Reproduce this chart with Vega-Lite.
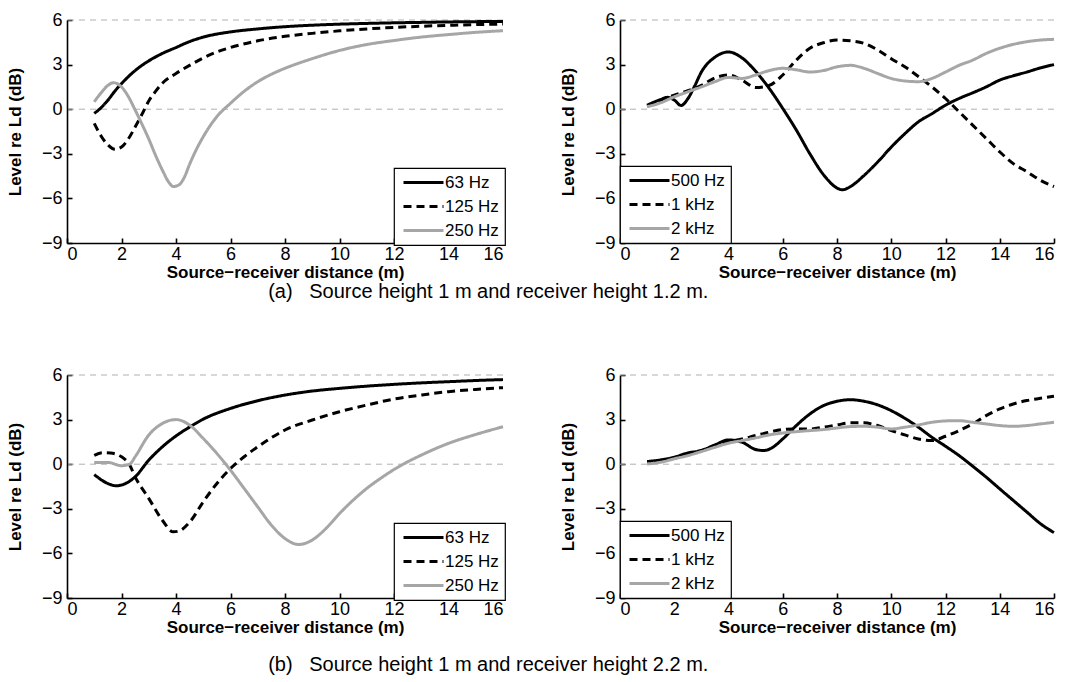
{
  "$schema": "https://vega.github.io/schema/vega-lite/v6.json",
  "background": "white",
  "padding": {"left": 6, "top": 11, "right": 5, "bottom": 5},
  "config": {
    "view": {"stroke": null},
    "font": "Liberation Sans",
    "axis": {"domainColor": "black", "domainWidth": 1.6, "tickColor": "black", "tickWidth": 1.6, "tickSize": -5, "grid": false, "labelFont": "Liberation Sans", "labelFontSize": 18, "labelColor": "black", "titleFont": "Liberation Sans", "titleFontSize": 17, "titleFontWeight": "bold", "titleColor": "black"},
    "axisX": {"labelPadding": 7, "titlePadding": 1},
    "axisY": {"labelPadding": 10, "titlePadding": 17},
    "legend": {"strokeColor": "black", "strokeWidth": 1.2, "fillColor": "white", "padding": 6, "labelFont": "Liberation Sans", "labelFontSize": 17, "labelColor": "black", "symbolType": "M-1,0H7", "symbolStrokeWidth": 3.2, "symbolSize": 100, "rowPadding": 6, "labelOffset": 28, "offset": 0, "cornerRadius": 0},
    "title": {"font": "Liberation Sans", "fontSize": 20, "fontWeight": "normal", "color": "black"}
  },
  "datasets": {
    "a1": [
      {"d": 1, "L": -0.28, "f": "63 Hz"}, {"d": 1.25, "L": 0.1, "f": "63 Hz"}, {"d": 1.5, "L": 0.6, "f": "63 Hz"}, {"d": 1.75, "L": 1.2, "f": "63 Hz"}, {"d": 2, "L": 1.72, "f": "63 Hz"}, {"d": 2.5, "L": 2.6, "f": "63 Hz"}, {"d": 3, "L": 3.25, "f": "63 Hz"}, {"d": 3.5, "L": 3.75, "f": "63 Hz"}, {"d": 4, "L": 4.15, "f": "63 Hz"}, {"d": 4.5, "L": 4.55, "f": "63 Hz"}, {"d": 5, "L": 4.85, "f": "63 Hz"}, {"d": 6, "L": 5.2, "f": "63 Hz"}, {"d": 7, "L": 5.4, "f": "63 Hz"}, {"d": 8, "L": 5.55, "f": "63 Hz"}, {"d": 9, "L": 5.65, "f": "63 Hz"}, {"d": 10, "L": 5.72, "f": "63 Hz"}, {"d": 11, "L": 5.77, "f": "63 Hz"}, {"d": 12, "L": 5.81, "f": "63 Hz"}, {"d": 13, "L": 5.84, "f": "63 Hz"}, {"d": 14, "L": 5.87, "f": "63 Hz"}, {"d": 15, "L": 5.89, "f": "63 Hz"}, {"d": 16, "L": 5.9, "f": "63 Hz"},
      {"d": 1, "L": -0.95, "f": "125 Hz"}, {"d": 1.25, "L": -1.8, "f": "125 Hz"}, {"d": 1.5, "L": -2.4, "f": "125 Hz"}, {"d": 1.76, "L": -2.7, "f": "125 Hz"}, {"d": 2, "L": -2.55, "f": "125 Hz"}, {"d": 2.25, "L": -2.0, "f": "125 Hz"}, {"d": 2.5, "L": -1.2, "f": "125 Hz"}, {"d": 2.75, "L": -0.35, "f": "125 Hz"}, {"d": 3, "L": 0.55, "f": "125 Hz"}, {"d": 3.25, "L": 1.2, "f": "125 Hz"}, {"d": 3.5, "L": 1.75, "f": "125 Hz"}, {"d": 4, "L": 2.4, "f": "125 Hz"}, {"d": 4.5, "L": 2.95, "f": "125 Hz"}, {"d": 5, "L": 3.45, "f": "125 Hz"}, {"d": 5.5, "L": 3.85, "f": "125 Hz"}, {"d": 6, "L": 4.15, "f": "125 Hz"}, {"d": 7, "L": 4.6, "f": "125 Hz"}, {"d": 8, "L": 4.9, "f": "125 Hz"}, {"d": 9, "L": 5.1, "f": "125 Hz"}, {"d": 10, "L": 5.27, "f": "125 Hz"}, {"d": 11, "L": 5.4, "f": "125 Hz"}, {"d": 12, "L": 5.5, "f": "125 Hz"}, {"d": 13, "L": 5.58, "f": "125 Hz"}, {"d": 14, "L": 5.64, "f": "125 Hz"}, {"d": 15, "L": 5.69, "f": "125 Hz"}, {"d": 16, "L": 5.73, "f": "125 Hz"},
      {"d": 1, "L": 0.5, "f": "250 Hz"}, {"d": 1.25, "L": 1.1, "f": "250 Hz"}, {"d": 1.5, "L": 1.6, "f": "250 Hz"}, {"d": 1.7, "L": 1.78, "f": "250 Hz"}, {"d": 2, "L": 1.5, "f": "250 Hz"}, {"d": 2.25, "L": 0.85, "f": "250 Hz"}, {"d": 2.5, "L": -0.05, "f": "250 Hz"}, {"d": 2.75, "L": -1.0, "f": "250 Hz"}, {"d": 3, "L": -2.0, "f": "250 Hz"}, {"d": 3.25, "L": -3.1, "f": "250 Hz"}, {"d": 3.5, "L": -4.1, "f": "250 Hz"}, {"d": 3.75, "L": -4.95, "f": "250 Hz"}, {"d": 3.9, "L": -5.2, "f": "250 Hz"}, {"d": 4.1, "L": -5.1, "f": "250 Hz"}, {"d": 4.3, "L": -4.6, "f": "250 Hz"}, {"d": 4.5, "L": -3.7, "f": "250 Hz"}, {"d": 4.75, "L": -2.7, "f": "250 Hz"}, {"d": 5, "L": -1.85, "f": "250 Hz"}, {"d": 5.5, "L": -0.5, "f": "250 Hz"}, {"d": 6, "L": 0.4, "f": "250 Hz"}, {"d": 6.5, "L": 1.2, "f": "250 Hz"}, {"d": 7, "L": 1.85, "f": "250 Hz"}, {"d": 7.5, "L": 2.35, "f": "250 Hz"}, {"d": 8, "L": 2.75, "f": "250 Hz"}, {"d": 9, "L": 3.4, "f": "250 Hz"}, {"d": 10, "L": 3.95, "f": "250 Hz"}, {"d": 11, "L": 4.35, "f": "250 Hz"}, {"d": 12, "L": 4.62, "f": "250 Hz"}, {"d": 13, "L": 4.85, "f": "250 Hz"}, {"d": 14, "L": 5.02, "f": "250 Hz"}, {"d": 15, "L": 5.17, "f": "250 Hz"}, {"d": 16, "L": 5.28, "f": "250 Hz"}
    ],
    "a2": [
      {"d": 1, "L": 0.27, "f": "500 Hz"}, {"d": 1.5, "L": 0.65, "f": "500 Hz"}, {"d": 1.75, "L": 0.8, "f": "500 Hz"}, {"d": 2, "L": 0.62, "f": "500 Hz"}, {"d": 2.25, "L": 0.25, "f": "500 Hz"}, {"d": 2.5, "L": 0.7, "f": "500 Hz"}, {"d": 2.75, "L": 1.55, "f": "500 Hz"}, {"d": 3, "L": 2.5, "f": "500 Hz"}, {"d": 3.5, "L": 3.5, "f": "500 Hz"}, {"d": 4, "L": 3.85, "f": "500 Hz"}, {"d": 4.5, "L": 3.45, "f": "500 Hz"}, {"d": 5, "L": 2.55, "f": "500 Hz"}, {"d": 5.5, "L": 1.4, "f": "500 Hz"}, {"d": 6, "L": 0.05, "f": "500 Hz"}, {"d": 6.5, "L": -1.4, "f": "500 Hz"}, {"d": 7, "L": -3.0, "f": "500 Hz"}, {"d": 7.5, "L": -4.4, "f": "500 Hz"}, {"d": 8, "L": -5.3, "f": "500 Hz"}, {"d": 8.2, "L": -5.42, "f": "500 Hz"}, {"d": 8.5, "L": -5.2, "f": "500 Hz"}, {"d": 9, "L": -4.45, "f": "500 Hz"}, {"d": 9.5, "L": -3.55, "f": "500 Hz"}, {"d": 10, "L": -2.55, "f": "500 Hz"}, {"d": 10.5, "L": -1.65, "f": "500 Hz"}, {"d": 11, "L": -0.85, "f": "500 Hz"}, {"d": 11.5, "L": -0.3, "f": "500 Hz"}, {"d": 12, "L": 0.27, "f": "500 Hz"}, {"d": 12.5, "L": 0.72, "f": "500 Hz"}, {"d": 13, "L": 1.1, "f": "500 Hz"}, {"d": 13.5, "L": 1.5, "f": "500 Hz"}, {"d": 14, "L": 1.96, "f": "500 Hz"}, {"d": 14.5, "L": 2.25, "f": "500 Hz"}, {"d": 15, "L": 2.5, "f": "500 Hz"}, {"d": 15.5, "L": 2.78, "f": "500 Hz"}, {"d": 16, "L": 3.0, "f": "500 Hz"},
      {"d": 1, "L": 0.2, "f": "1 kHz"}, {"d": 1.5, "L": 0.6, "f": "1 kHz"}, {"d": 2, "L": 0.95, "f": "1 kHz"}, {"d": 2.5, "L": 1.24, "f": "1 kHz"}, {"d": 3, "L": 1.6, "f": "1 kHz"}, {"d": 3.5, "L": 2.1, "f": "1 kHz"}, {"d": 4, "L": 2.3, "f": "1 kHz"}, {"d": 4.5, "L": 1.95, "f": "1 kHz"}, {"d": 5, "L": 1.46, "f": "1 kHz"}, {"d": 5.5, "L": 1.6, "f": "1 kHz"}, {"d": 6, "L": 2.3, "f": "1 kHz"}, {"d": 6.5, "L": 3.3, "f": "1 kHz"}, {"d": 7, "L": 4.1, "f": "1 kHz"}, {"d": 7.5, "L": 4.47, "f": "1 kHz"}, {"d": 8, "L": 4.65, "f": "1 kHz"}, {"d": 8.5, "L": 4.6, "f": "1 kHz"}, {"d": 9, "L": 4.43, "f": "1 kHz"}, {"d": 9.5, "L": 3.98, "f": "1 kHz"}, {"d": 10, "L": 3.4, "f": "1 kHz"}, {"d": 10.5, "L": 2.85, "f": "1 kHz"}, {"d": 11, "L": 2.2, "f": "1 kHz"}, {"d": 11.5, "L": 1.5, "f": "1 kHz"}, {"d": 12, "L": 0.72, "f": "1 kHz"}, {"d": 12.5, "L": -0.17, "f": "1 kHz"}, {"d": 13, "L": -1.07, "f": "1 kHz"}, {"d": 13.5, "L": -1.97, "f": "1 kHz"}, {"d": 14, "L": -2.87, "f": "1 kHz"}, {"d": 14.5, "L": -3.66, "f": "1 kHz"}, {"d": 15, "L": -4.2, "f": "1 kHz"}, {"d": 15.5, "L": -4.78, "f": "1 kHz"}, {"d": 16, "L": -5.2, "f": "1 kHz"},
      {"d": 1, "L": 0.16, "f": "2 kHz"}, {"d": 1.5, "L": 0.43, "f": "2 kHz"}, {"d": 2, "L": 0.83, "f": "2 kHz"}, {"d": 2.5, "L": 1.17, "f": "2 kHz"}, {"d": 3, "L": 1.5, "f": "2 kHz"}, {"d": 3.5, "L": 1.85, "f": "2 kHz"}, {"d": 4, "L": 2.14, "f": "2 kHz"}, {"d": 4.5, "L": 2.07, "f": "2 kHz"}, {"d": 5, "L": 2.3, "f": "2 kHz"}, {"d": 5.5, "L": 2.6, "f": "2 kHz"}, {"d": 6, "L": 2.75, "f": "2 kHz"}, {"d": 6.5, "L": 2.65, "f": "2 kHz"}, {"d": 7, "L": 2.5, "f": "2 kHz"}, {"d": 7.5, "L": 2.6, "f": "2 kHz"}, {"d": 8, "L": 2.85, "f": "2 kHz"}, {"d": 8.5, "L": 2.95, "f": "2 kHz"}, {"d": 9, "L": 2.75, "f": "2 kHz"}, {"d": 9.5, "L": 2.4, "f": "2 kHz"}, {"d": 10, "L": 2.07, "f": "2 kHz"}, {"d": 10.5, "L": 1.9, "f": "2 kHz"}, {"d": 11, "L": 1.85, "f": "2 kHz"}, {"d": 11.5, "L": 2.07, "f": "2 kHz"}, {"d": 12, "L": 2.5, "f": "2 kHz"}, {"d": 12.5, "L": 2.95, "f": "2 kHz"}, {"d": 13, "L": 3.3, "f": "2 kHz"}, {"d": 13.5, "L": 3.75, "f": "2 kHz"}, {"d": 14, "L": 4.1, "f": "2 kHz"}, {"d": 14.5, "L": 4.36, "f": "2 kHz"}, {"d": 15, "L": 4.54, "f": "2 kHz"}, {"d": 15.5, "L": 4.65, "f": "2 kHz"}, {"d": 16, "L": 4.7, "f": "2 kHz"}
    ],
    "b1": [
      {"d": 1, "L": -0.7, "f": "63 Hz"}, {"d": 1.5, "L": -1.3, "f": "63 Hz"}, {"d": 1.8, "L": -1.45, "f": "63 Hz"}, {"d": 2, "L": -1.4, "f": "63 Hz"}, {"d": 2.5, "L": -0.85, "f": "63 Hz"}, {"d": 3, "L": 0.27, "f": "63 Hz"}, {"d": 3.5, "L": 1.17, "f": "63 Hz"}, {"d": 4, "L": 1.9, "f": "63 Hz"}, {"d": 4.5, "L": 2.5, "f": "63 Hz"}, {"d": 5, "L": 3.03, "f": "63 Hz"}, {"d": 6, "L": 3.75, "f": "63 Hz"}, {"d": 7, "L": 4.27, "f": "63 Hz"}, {"d": 8, "L": 4.65, "f": "63 Hz"}, {"d": 9, "L": 4.92, "f": "63 Hz"}, {"d": 10, "L": 5.1, "f": "63 Hz"}, {"d": 11, "L": 5.25, "f": "63 Hz"}, {"d": 12, "L": 5.37, "f": "63 Hz"}, {"d": 13, "L": 5.47, "f": "63 Hz"}, {"d": 14, "L": 5.55, "f": "63 Hz"}, {"d": 15, "L": 5.63, "f": "63 Hz"}, {"d": 16, "L": 5.69, "f": "63 Hz"},
      {"d": 1, "L": 0.6, "f": "125 Hz"}, {"d": 1.3, "L": 0.77, "f": "125 Hz"}, {"d": 1.6, "L": 0.75, "f": "125 Hz"}, {"d": 2, "L": 0.5, "f": "125 Hz"}, {"d": 2.3, "L": -0.06, "f": "125 Hz"}, {"d": 2.5, "L": -0.85, "f": "125 Hz"}, {"d": 3, "L": -2.3, "f": "125 Hz"}, {"d": 3.5, "L": -3.77, "f": "125 Hz"}, {"d": 3.9, "L": -4.55, "f": "125 Hz"}, {"d": 4.1, "L": -4.5, "f": "125 Hz"}, {"d": 4.5, "L": -3.9, "f": "125 Hz"}, {"d": 5, "L": -2.53, "f": "125 Hz"}, {"d": 5.5, "L": -1.3, "f": "125 Hz"}, {"d": 6, "L": -0.29, "f": "125 Hz"}, {"d": 6.5, "L": 0.5, "f": "125 Hz"}, {"d": 7, "L": 1.17, "f": "125 Hz"}, {"d": 7.5, "L": 1.78, "f": "125 Hz"}, {"d": 8, "L": 2.3, "f": "125 Hz"}, {"d": 9, "L": 2.97, "f": "125 Hz"}, {"d": 10, "L": 3.53, "f": "125 Hz"}, {"d": 11, "L": 3.98, "f": "125 Hz"}, {"d": 12, "L": 4.38, "f": "125 Hz"}, {"d": 13, "L": 4.65, "f": "125 Hz"}, {"d": 14, "L": 4.88, "f": "125 Hz"}, {"d": 15, "L": 5.03, "f": "125 Hz"}, {"d": 16, "L": 5.15, "f": "125 Hz"},
      {"d": 1, "L": 0.12, "f": "250 Hz"}, {"d": 1.5, "L": 0.12, "f": "250 Hz"}, {"d": 2, "L": -0.1, "f": "250 Hz"}, {"d": 2.3, "L": 0.0, "f": "250 Hz"}, {"d": 2.5, "L": 0.5, "f": "250 Hz"}, {"d": 3, "L": 1.96, "f": "250 Hz"}, {"d": 3.5, "L": 2.74, "f": "250 Hz"}, {"d": 4, "L": 3.0, "f": "250 Hz"}, {"d": 4.5, "L": 2.63, "f": "250 Hz"}, {"d": 5, "L": 1.73, "f": "250 Hz"}, {"d": 5.5, "L": 0.72, "f": "250 Hz"}, {"d": 6, "L": -0.4, "f": "250 Hz"}, {"d": 6.5, "L": -1.63, "f": "250 Hz"}, {"d": 7, "L": -2.87, "f": "250 Hz"}, {"d": 7.5, "L": -4.1, "f": "250 Hz"}, {"d": 8, "L": -5.0, "f": "250 Hz"}, {"d": 8.5, "L": -5.4, "f": "250 Hz"}, {"d": 9, "L": -5.1, "f": "250 Hz"}, {"d": 9.5, "L": -4.33, "f": "250 Hz"}, {"d": 10, "L": -3.32, "f": "250 Hz"}, {"d": 10.5, "L": -2.42, "f": "250 Hz"}, {"d": 11, "L": -1.63, "f": "250 Hz"}, {"d": 11.5, "L": -0.96, "f": "250 Hz"}, {"d": 12, "L": -0.36, "f": "250 Hz"}, {"d": 12.5, "L": 0.16, "f": "250 Hz"}, {"d": 13, "L": 0.61, "f": "250 Hz"}, {"d": 14, "L": 1.4, "f": "250 Hz"}, {"d": 15, "L": 2.0, "f": "250 Hz"}, {"d": 16, "L": 2.52, "f": "250 Hz"}
    ],
    "b2": [
      {"d": 1, "L": 0.18, "f": "500 Hz"}, {"d": 1.5, "L": 0.29, "f": "500 Hz"}, {"d": 2, "L": 0.47, "f": "500 Hz"}, {"d": 2.5, "L": 0.76, "f": "500 Hz"}, {"d": 3, "L": 0.92, "f": "500 Hz"}, {"d": 3.5, "L": 1.3, "f": "500 Hz"}, {"d": 4, "L": 1.63, "f": "500 Hz"}, {"d": 4.5, "L": 1.48, "f": "500 Hz"}, {"d": 5, "L": 0.99, "f": "500 Hz"}, {"d": 5.3, "L": 0.92, "f": "500 Hz"}, {"d": 5.6, "L": 1.1, "f": "500 Hz"}, {"d": 6, "L": 1.7, "f": "500 Hz"}, {"d": 6.5, "L": 2.6, "f": "500 Hz"}, {"d": 7, "L": 3.38, "f": "500 Hz"}, {"d": 7.5, "L": 3.94, "f": "500 Hz"}, {"d": 8, "L": 4.23, "f": "500 Hz"}, {"d": 8.5, "L": 4.34, "f": "500 Hz"}, {"d": 9, "L": 4.23, "f": "500 Hz"}, {"d": 9.5, "L": 3.99, "f": "500 Hz"}, {"d": 10, "L": 3.6, "f": "500 Hz"}, {"d": 10.5, "L": 3.09, "f": "500 Hz"}, {"d": 11, "L": 2.49, "f": "500 Hz"}, {"d": 11.5, "L": 1.81, "f": "500 Hz"}, {"d": 12, "L": 1.21, "f": "500 Hz"}, {"d": 12.5, "L": 0.58, "f": "500 Hz"}, {"d": 13, "L": -0.13, "f": "500 Hz"}, {"d": 13.5, "L": -0.87, "f": "500 Hz"}, {"d": 14, "L": -1.66, "f": "500 Hz"}, {"d": 14.5, "L": -2.44, "f": "500 Hz"}, {"d": 15, "L": -3.22, "f": "500 Hz"}, {"d": 15.5, "L": -4.0, "f": "500 Hz"}, {"d": 16, "L": -4.6, "f": "500 Hz"},
      {"d": 1, "L": 0.13, "f": "1 kHz"}, {"d": 1.5, "L": 0.25, "f": "1 kHz"}, {"d": 2, "L": 0.4, "f": "1 kHz"}, {"d": 2.5, "L": 0.69, "f": "1 kHz"}, {"d": 3, "L": 0.92, "f": "1 kHz"}, {"d": 3.5, "L": 1.25, "f": "1 kHz"}, {"d": 4, "L": 1.52, "f": "1 kHz"}, {"d": 4.5, "L": 1.7, "f": "1 kHz"}, {"d": 5, "L": 1.93, "f": "1 kHz"}, {"d": 5.5, "L": 2.15, "f": "1 kHz"}, {"d": 6, "L": 2.33, "f": "1 kHz"}, {"d": 6.5, "L": 2.37, "f": "1 kHz"}, {"d": 7, "L": 2.37, "f": "1 kHz"}, {"d": 7.5, "L": 2.49, "f": "1 kHz"}, {"d": 8, "L": 2.64, "f": "1 kHz"}, {"d": 8.5, "L": 2.78, "f": "1 kHz"}, {"d": 9, "L": 2.78, "f": "1 kHz"}, {"d": 9.5, "L": 2.6, "f": "1 kHz"}, {"d": 10, "L": 2.26, "f": "1 kHz"}, {"d": 10.5, "L": 1.97, "f": "1 kHz"}, {"d": 11, "L": 1.7, "f": "1 kHz"}, {"d": 11.5, "L": 1.59, "f": "1 kHz"}, {"d": 12, "L": 1.88, "f": "1 kHz"}, {"d": 12.5, "L": 2.26, "f": "1 kHz"}, {"d": 13, "L": 2.71, "f": "1 kHz"}, {"d": 13.5, "L": 3.27, "f": "1 kHz"}, {"d": 14, "L": 3.72, "f": "1 kHz"}, {"d": 14.5, "L": 4.05, "f": "1 kHz"}, {"d": 15, "L": 4.28, "f": "1 kHz"}, {"d": 15.5, "L": 4.43, "f": "1 kHz"}, {"d": 16, "L": 4.57, "f": "1 kHz"},
      {"d": 1, "L": 0.02, "f": "2 kHz"}, {"d": 1.5, "L": 0.13, "f": "2 kHz"}, {"d": 2, "L": 0.36, "f": "2 kHz"}, {"d": 2.5, "L": 0.58, "f": "2 kHz"}, {"d": 3, "L": 0.85, "f": "2 kHz"}, {"d": 3.5, "L": 1.14, "f": "2 kHz"}, {"d": 4, "L": 1.41, "f": "2 kHz"}, {"d": 4.5, "L": 1.59, "f": "2 kHz"}, {"d": 5, "L": 1.77, "f": "2 kHz"}, {"d": 5.5, "L": 1.97, "f": "2 kHz"}, {"d": 6, "L": 2.1, "f": "2 kHz"}, {"d": 6.5, "L": 2.19, "f": "2 kHz"}, {"d": 7, "L": 2.26, "f": "2 kHz"}, {"d": 7.5, "L": 2.33, "f": "2 kHz"}, {"d": 8, "L": 2.44, "f": "2 kHz"}, {"d": 8.5, "L": 2.53, "f": "2 kHz"}, {"d": 9, "L": 2.55, "f": "2 kHz"}, {"d": 9.5, "L": 2.49, "f": "2 kHz"}, {"d": 10, "L": 2.37, "f": "2 kHz"}, {"d": 10.5, "L": 2.49, "f": "2 kHz"}, {"d": 11, "L": 2.64, "f": "2 kHz"}, {"d": 11.5, "L": 2.82, "f": "2 kHz"}, {"d": 12, "L": 2.91, "f": "2 kHz"}, {"d": 12.5, "L": 2.93, "f": "2 kHz"}, {"d": 13, "L": 2.82, "f": "2 kHz"}, {"d": 13.5, "L": 2.71, "f": "2 kHz"}, {"d": 14, "L": 2.6, "f": "2 kHz"}, {"d": 14.5, "L": 2.55, "f": "2 kHz"}, {"d": 15, "L": 2.6, "f": "2 kHz"}, {"d": 15.5, "L": 2.71, "f": "2 kHz"}, {"d": 16, "L": 2.82, "f": "2 kHz"}
    ],
    "guides": [{"g": 0}, {"g": 6}]
  },
  "vconcat": [
    {
      "title": {"text": "(a)\u00a0\u00a0 Source height 1 m and receiver height 1.2 m.", "orient": "bottom", "anchor": "middle", "offset": 2, "dx": -45},
      "spacing": 50,
      "resolve": {"scale": {"color": "independent", "strokeDash": "independent"}},
      "hconcat": [
        {
          "width": 436, "height": 223,
          "layer": [
            {"data": {"name": "guides"}, "mark": {"type": "rule", "stroke": "#b0b0b0", "strokeDash": [6, 5], "strokeWidth": 1}, "encoding": {"y": {"field": "g", "type": "quantitative", "scale": {"domain": [-9, 6]}, "title": "Level re Ld (dB)"}}},
            {"data": {"name": "a1"}, "mark": {"type": "line", "strokeWidth": 3, "interpolate": "monotone"},
             "encoding": {
               "x": {"field": "d", "type": "quantitative", "scale": {"domain": [0, 16], "nice": false}, "axis": {"values": [0, 2, 4, 6, 8, 10, 12, 14, 16]}, "title": "Source−receiver distance (m)"},
               "y": {"field": "L", "type": "quantitative", "scale": {"domain": [-9, 6]}, "axis": {"values": [-9, -6, -3, 0, 3, 6]}, "title": "Level re Ld (dB)"},
               "color": {"field": "f", "type": "nominal", "sort": null, "scale": {"domain": ["63 Hz", "125 Hz", "250 Hz"], "range": ["black", "black", "#a6a6a6"]}, "legend": {"title": null, "orient": "bottom-right", "offset": -2}},
               "strokeDash": {"field": "f", "type": "nominal", "sort": null, "scale": {"domain": ["63 Hz", "125 Hz", "250 Hz"], "range": [[1, 0], [8, 5], [1, 0]]}, "legend": {"title": null, "orient": "bottom-right", "offset": -2}}
             }}
          ]
        },
        {
          "width": 434, "height": 223,
          "layer": [
            {"data": {"name": "guides"}, "mark": {"type": "rule", "stroke": "#b0b0b0", "strokeDash": [6, 5], "strokeWidth": 1}, "encoding": {"y": {"field": "g", "type": "quantitative", "scale": {"domain": [-9, 6]}, "title": "Level re Ld (dB)"}}},
            {"data": {"name": "a2"}, "mark": {"type": "line", "strokeWidth": 3, "interpolate": "monotone"},
             "encoding": {
               "x": {"field": "d", "type": "quantitative", "scale": {"domain": [0, 16], "nice": false}, "axis": {"values": [0, 2, 4, 6, 8, 10, 12, 14, 16]}, "title": "Source−receiver distance (m)"},
               "y": {"field": "L", "type": "quantitative", "scale": {"domain": [-9, 6]}, "axis": {"values": [-9, -6, -3, 0, 3, 6]}, "title": "Level re Ld (dB)"},
               "color": {"field": "f", "type": "nominal", "sort": null, "scale": {"domain": ["500 Hz", "1 kHz", "2 kHz"], "range": ["black", "black", "#a6a6a6"]}, "legend": {"title": null, "orient": "bottom-left", "offset": 0}},
               "strokeDash": {"field": "f", "type": "nominal", "sort": null, "scale": {"domain": ["500 Hz", "1 kHz", "2 kHz"], "range": [[1, 0], [8, 5], [1, 0]]}, "legend": {"title": null, "orient": "bottom-left", "offset": 0}}
             }}
          ]
        }
      ]
    },
    {
      "title": {"text": "(b)\u00a0\u00a0 Source height 1 m and receiver height 2.2 m.", "orient": "bottom", "anchor": "middle", "offset": 20, "dx": -45},
      "spacing": 50,
      "resolve": {"scale": {"color": "independent", "strokeDash": "independent"}},
      "hconcat": [
        {
          "width": 436, "height": 223,
          "layer": [
            {"data": {"name": "guides"}, "mark": {"type": "rule", "stroke": "#b0b0b0", "strokeDash": [6, 5], "strokeWidth": 1}, "encoding": {"y": {"field": "g", "type": "quantitative", "scale": {"domain": [-9, 6]}, "title": "Level re Ld (dB)"}}},
            {"data": {"name": "b1"}, "mark": {"type": "line", "strokeWidth": 3, "interpolate": "monotone"},
             "encoding": {
               "x": {"field": "d", "type": "quantitative", "scale": {"domain": [0, 16], "nice": false}, "axis": {"values": [0, 2, 4, 6, 8, 10, 12, 14, 16]}, "title": "Source−receiver distance (m)"},
               "y": {"field": "L", "type": "quantitative", "scale": {"domain": [-9, 6]}, "axis": {"values": [-9, -6, -3, 0, 3, 6]}, "title": "Level re Ld (dB)"},
               "color": {"field": "f", "type": "nominal", "sort": null, "scale": {"domain": ["63 Hz", "125 Hz", "250 Hz"], "range": ["black", "black", "#a6a6a6"]}, "legend": {"title": null, "orient": "bottom-right", "offset": -2}},
               "strokeDash": {"field": "f", "type": "nominal", "sort": null, "scale": {"domain": ["63 Hz", "125 Hz", "250 Hz"], "range": [[1, 0], [8, 5], [1, 0]]}, "legend": {"title": null, "orient": "bottom-right", "offset": -2}}
             }}
          ]
        },
        {
          "width": 434, "height": 223,
          "layer": [
            {"data": {"name": "guides"}, "mark": {"type": "rule", "stroke": "#b0b0b0", "strokeDash": [6, 5], "strokeWidth": 1}, "encoding": {"y": {"field": "g", "type": "quantitative", "scale": {"domain": [-9, 6]}, "title": "Level re Ld (dB)"}}},
            {"data": {"name": "b2"}, "mark": {"type": "line", "strokeWidth": 3, "interpolate": "monotone"},
             "encoding": {
               "x": {"field": "d", "type": "quantitative", "scale": {"domain": [0, 16], "nice": false}, "axis": {"values": [0, 2, 4, 6, 8, 10, 12, 14, 16]}, "title": "Source−receiver distance (m)"},
               "y": {"field": "L", "type": "quantitative", "scale": {"domain": [-9, 6]}, "axis": {"values": [-9, -6, -3, 0, 3, 6]}, "title": "Level re Ld (dB)"},
               "color": {"field": "f", "type": "nominal", "sort": null, "scale": {"domain": ["500 Hz", "1 kHz", "2 kHz"], "range": ["black", "black", "#a6a6a6"]}, "legend": {"title": null, "orient": "bottom-left", "offset": 0}},
               "strokeDash": {"field": "f", "type": "nominal", "sort": null, "scale": {"domain": ["500 Hz", "1 kHz", "2 kHz"], "range": [[1, 0], [8, 5], [1, 0]]}, "legend": {"title": null, "orient": "bottom-left", "offset": 0}}
             }}
          ]
        }
      ]
    }
  ],
  "spacing": 64,
  "resolve": {"scale": {"color": "independent", "strokeDash": "independent"}}
}
